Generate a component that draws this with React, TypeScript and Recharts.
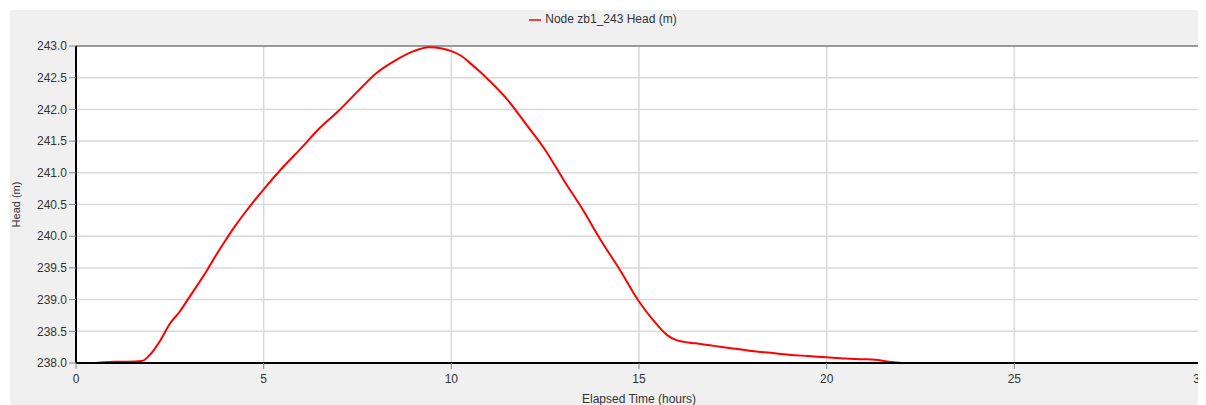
import React from 'react';
import {
  LineChart,
  Line,
  XAxis,
  YAxis,
  CartesianGrid,
  Legend,
  ReferenceLine,
} from 'recharts';

// elapsed time (hours) and head (m)
const hours = [
  0.25, 0.5, 1.0, 1.4, 1.75, 2.0, 2.25, 2.5, 2.75, 3.0, 3.5, 3.75, 4.0, 4.25, 4.5,
  5.0, 5.5, 6.0, 6.5, 7.0, 7.5, 8.0, 8.5, 9.0, 9.4, 9.75, 10.0, 10.25, 10.5, 10.75,
  11.0, 11.5, 12.0, 12.5, 13.0, 13.5, 14.0, 14.5, 15.0, 15.4, 15.75, 16.0, 16.5,
  17.0, 17.5, 18.0, 18.5, 19.0, 19.5, 20.0, 20.5, 21.0, 21.3, 21.8, 22.0, 23, 24,
  25, 26, 27, 28, 29, 30,
];
const head = [
  238.0, 238.0, 238.02, 238.02, 238.03, 238.15, 238.36, 238.62, 238.8, 239.02,
  239.47, 239.72, 239.95, 240.17, 240.37, 240.74, 241.08, 241.39, 241.71, 241.98,
  242.28, 242.57, 242.77, 242.92, 242.98, 242.96, 242.92, 242.85, 242.73, 242.6,
  242.46, 242.15, 241.76, 241.36, 240.88, 240.42, 239.92, 239.46, 238.97, 238.66,
  238.44, 238.36, 238.31, 238.27, 238.23, 238.19, 238.16, 238.13, 238.11, 238.09,
  238.07, 238.06, 238.05, 238.01, 238.0, 238.0, 238.0, 238.0, 238.0, 238.0, 238.0,
  238.0, 238.0,
];
const xTicks = [0, 5, 10, 15, 20, 25, 30];
const yTicks = [238, 238.5, 239, 239.5, 240, 240.5, 241, 241.5, 242, 242.5, 243];
const seriesName = 'Node zb1_243 Head (m)';

const data = hours.map((h, i) => ({ t: h, head: head[i] }));

const font = '"Liberation Sans", Arial, sans-serif';

export default function App() {
  return (
    <div style={{ marginLeft: 2, marginTop: 2, width: 1196, height: 395, background: '#f0f0f0', fontFamily: font }}>
      <LineChart width={1196} height={395} data={data} margin={{ top: 22, right: 4, left: 0, bottom: 0 }}>
        <CartesianGrid stroke="#d9d9d9" strokeWidth={1.5} fill="#ffffff" />
        <XAxis
          dataKey="t"
          type="number"
          domain={[0, 30]}
          ticks={xTicks}
          height={42}
          tickSize={6}
          tickMargin={5}
          stroke="#000"
          axisLine={{ stroke: '#000', strokeWidth: 2 }}
          tickLine={{ stroke: '#888' }}
          tick={{ fill: '#333', fontSize: 12, fontFamily: font }}
          label={{ value: 'Elapsed Time (hours)', position: 'insideBottom', offset: 2, fill: '#333', fontSize: 12, fontFamily: font }}
        />
        <YAxis
          type="number"
          domain={[238, 243]}
          ticks={yTicks}
          width={66}
          tickSize={7}
          tickMargin={2}
          tickFormatter={(v: number) => v.toFixed(1)}
          axisLine={{ stroke: '#000', strokeWidth: 2 }}
          tickLine={{ stroke: '#888' }}
          tick={{ fill: '#333', fontSize: 12, fontFamily: font }}
          label={{ value: 'Head (m)', angle: -90, position: 'insideLeft', offset: 6, fill: '#333', fontSize: 11, fontFamily: font, style: { textAnchor: 'middle' } }}
        />
        <ReferenceLine y={243} stroke="#999" strokeWidth={2} />
        <ReferenceLine x={30} stroke="#999" strokeWidth={2} />
        <Legend
          layout="vertical"
          align="center"
          verticalAlign="top"
          iconSize={12}
          wrapperStyle={{ top: 2, fontSize: 12, fontFamily: font }}
          formatter={(value: string) => <span style={{ color: '#333' }}>{value}</span>}
        />
        <Line
          name={seriesName}
          dataKey="head"
          type="monotone"
          stroke="#ff0000"
          strokeWidth={2}
          dot={false}
          legendType="plainline"
          isAnimationActive={false}
        />
      </LineChart>
    </div>
  );
}
